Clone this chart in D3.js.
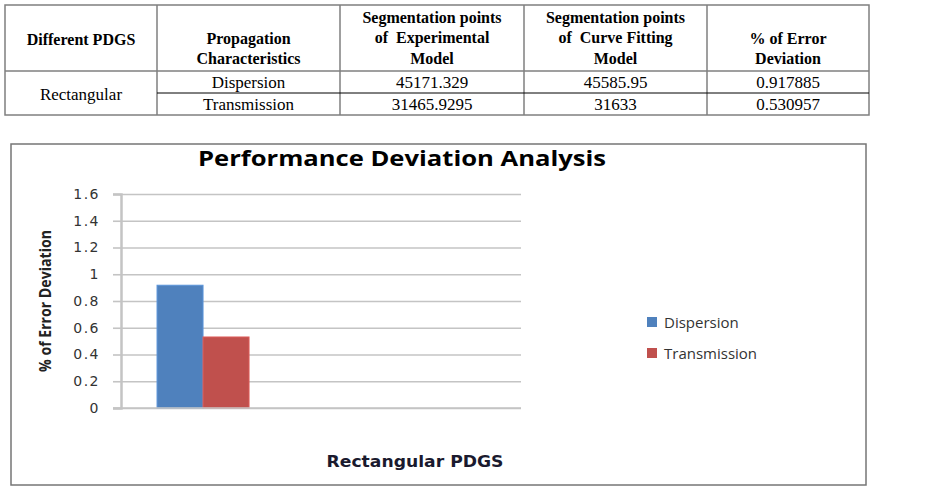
<!DOCTYPE html>
<html lang="en">
<head>
<meta charset="UTF-8" />
<title>Performance Deviation Analysis</title>
<script src="https://d3js.org/d3.v7.min.js"></script>
<style>
  body { margin: 0; background: #fff; }
  svg { display: block; }
</style>
</head>
<body>
<svg id="page" width="925" height="490"></svg>
<script>
  // table content
  const tableHeaders = [
    ["Different PDGS"],
    ["Propagation", "Characteristics"],
    ["Segmentation points", "of  Experimental", "Model"],
    ["Segmentation points", "of  Curve Fitting", "Model"],
    ["% of Error", "Deviation"]
  ];
  const pdgsType = "Rectangular";
  const characteristics = ["Dispersion", "Transmission"];
  const experimental = ["45171.329", "31465.9295"];
  const curveFitting = ["45585.95", "31633"];
  const errorText = ["0.917885", "0.530957"];

  // chart data
  const categories = ["Rectangular PDGS"];
  const series = ["Dispersion", "Transmission"];
  const errorValues = [0.917885, 0.530957];
  const yTicks = [0, 0.2, 0.4, 0.6, 0.8, 1, 1.2, 1.4, 1.6];
  const colors = ["#4F81BD", "#C0504D"];

  const svg = d3.select("#page");

  // ---------- table ----------
  const colX = [5, 157, 340, 524, 707, 869];
  const rowY = [5, 71, 93, 115];
  const tbl = svg.append("g").attr("font-family", "'Liberation Serif', 'Times New Roman', serif")
    .attr("font-size", 17).attr("fill", "#000");

  // outer frame + column lines
  tbl.append("rect").attr("x", colX[0]).attr("y", rowY[0])
    .attr("width", colX[5] - colX[0]).attr("height", rowY[3] - rowY[0])
    .attr("fill", "none").attr("stroke", "#7f7f7f").attr("stroke-width", 1.5);
  colX.slice(1, 5).forEach(x => {
    tbl.append("line").attr("x1", x).attr("x2", x).attr("y1", rowY[0]).attr("y2", rowY[3])
      .attr("stroke", "#7f7f7f").attr("stroke-width", 1.5);
  });
  tbl.append("line").attr("x1", colX[0]).attr("x2", colX[5]).attr("y1", rowY[1]).attr("y2", rowY[1])
    .attr("stroke", "#7f7f7f").attr("stroke-width", 1.5);
  tbl.append("line").attr("x1", colX[1]).attr("x2", colX[5]).attr("y1", rowY[2]).attr("y2", rowY[2])
    .attr("stroke", "#000").attr("stroke-width", 1);

  // header text (baselines per line count)
  const headBase = { 1: [45], 2: [44, 64], 3: [23, 43, 64] };
  tableHeaders.forEach((lines, i) => {
    const cx = (colX[i] + colX[i + 1]) / 2;
    lines.forEach((t, j) => {
      tbl.append("text").attr("x", cx).attr("y", headBase[lines.length][j])
        .attr("text-anchor", "middle").attr("font-weight", "bold")
        .attr("font-size", 16).attr("xml:space", "preserve").text(t);
    });
  });

  // body text
  tbl.append("text").attr("x", (colX[0] + colX[1]) / 2).attr("y", 100)
    .attr("text-anchor", "middle").text(pdgsType);
  const cols = [characteristics, experimental, curveFitting, errorText];
  cols.forEach((vals, c) => {
    vals.forEach((v, r) => {
      tbl.append("text").attr("x", (colX[c + 1] + colX[c + 2]) / 2)
        .attr("y", (rowY[r + 1] + rowY[r + 2]) / 2 + 6)
        .attr("text-anchor", "middle").text(v);
    });
  });

  // ---------- chart ----------
  svg.append("rect").attr("x", 11).attr("y", 144).attr("width", 855).attr("height", 341)
    .attr("fill", "#fff").attr("stroke", "#767676").attr("stroke-width", 1.5);

  svg.append("text").attr("x", 402).attr("y", 166).attr("text-anchor", "middle")
    .attr("font-family", "'Open Sans', sans-serif").attr("font-weight", "bold")
    .attr("font-size", 22).attr("textLength", 408).attr("lengthAdjust", "spacingAndGlyphs")
    .attr("fill", "#000")
    .text("Performance Deviation Analysis");

  const plot = { left: 121, right: 521, top: 194, bottom: 408 };

  const y = d3.scaleLinear().domain([0, 1.6]).range([plot.bottom, plot.top]);
  const x0 = d3.scaleBand().domain(categories).range([plot.left, plot.right])
    .paddingInner(0).paddingOuter(1.674).align(0.117);
  const x1 = d3.scaleBand().domain(series).range([0, x0.bandwidth()]);

  // gridlines
  const grid = svg.append("g").attr("transform", `translate(${plot.left},0)`)
    .call(d3.axisLeft(y).tickValues(yTicks).tickSize(-(plot.right - plot.left)).tickFormat(""));
  grid.select(".domain").remove();
  grid.selectAll(".tick line").attr("stroke", "#c4c4c4").attr("stroke-width", 1.6);

  // y axis
  const yAxis = svg.append("g").attr("transform", `translate(${plot.left},0)`)
    .call(d3.axisLeft(y).tickValues(yTicks).tickSize(8).tickPadding(13).tickFormat(d3.format("")));
  yAxis.select(".domain").attr("stroke", "#c4c4c4").attr("stroke-width", 2.5);
  yAxis.selectAll(".tick line").attr("stroke", "#c4c4c4").attr("stroke-width", 1.6);
  yAxis.selectAll(".tick text").attr("font-family", "'DejaVu Sans', sans-serif")
    .attr("font-size", 14).attr("fill", "#333").attr("letter-spacing", 1.5);

  // bars
  const groups = svg.append("g").selectAll("g").data(categories).join("g")
    .attr("transform", d => `translate(${x0(d)},0)`);
  groups.selectAll("rect").data(series.map((s, i) => ({ s, v: errorValues[i], c: colors[i] })))
    .join("rect")
    .attr("x", d => x1(d.s))
    .attr("y", d => y(d.v))
    .attr("width", x1.bandwidth())
    .attr("height", d => y(0) - y(d.v))
    .attr("fill", d => d.c)
    .attr("stroke", d => d3.color(d.c).brighter(0.4))
    .attr("stroke-width", 1);

  // x axis baseline
  svg.append("line").attr("x1", plot.left - 8).attr("x2", plot.right)
    .attr("y1", y(0)).attr("y2", y(0)).attr("stroke", "#c4c4c4").attr("stroke-width", 1.6);

  // axis titles
  svg.append("text").attr("transform", "translate(51,301) rotate(-90)")
    .attr("text-anchor", "middle").attr("font-family", "'Open Sans', sans-serif")
    .attr("font-weight", "bold").attr("font-size", 16).attr("textLength", 142)
    .attr("lengthAdjust", "spacingAndGlyphs").attr("fill", "#222")
    .text("% of Error Deviation");

  svg.append("text").attr("x", 415).attr("y", 467).attr("text-anchor", "middle")
    .attr("font-family", "'DejaVu Sans', Verdana, sans-serif").attr("font-weight", "bold")
    .attr("font-size", 15).attr("textLength", 177).attr("lengthAdjust", "spacingAndGlyphs")
    .attr("fill", "#1a1a2e")
    .text(categories[0]);

  // legend
  const legend = svg.append("g").attr("transform", "translate(647,322)");
  series.forEach((s, i) => {
    const g = legend.append("g").attr("transform", `translate(0,${i * 31})`);
    g.append("rect").attr("x", 0).attr("y", -5).attr("width", 10).attr("height", 10).attr("fill", colors[i]);
    g.append("text").attr("x", 17).attr("y", 5.5).attr("font-family", "'Open Sans', sans-serif")
      .attr("font-size", 15).attr("fill", "#333").text(s);
  });
</script>
</body>
</html>
